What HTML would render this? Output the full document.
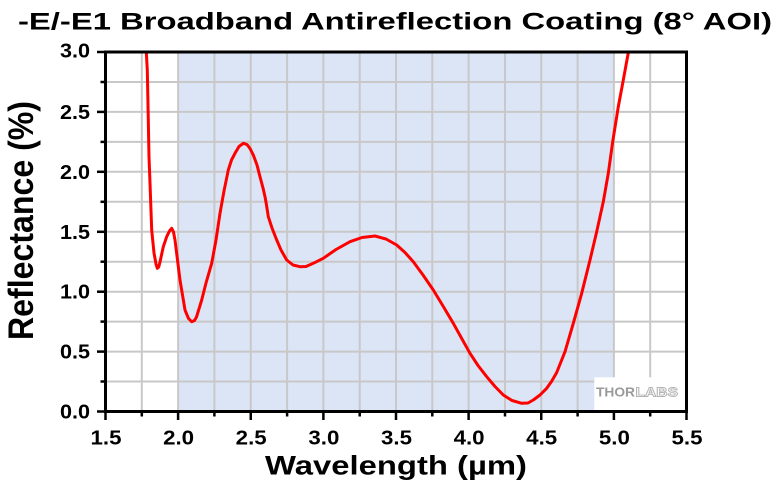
<!DOCTYPE html>
<html>
<head>
<meta charset="utf-8">
<style>
html,body{margin:0;padding:0;background:#fff;}
svg{display:block;}
text{font-family:"Liberation Sans",Arial,sans-serif;font-weight:bold;fill:#000;}
</style>
</head>
<body>
<svg width="780" height="487" viewBox="0 0 780 487" xmlns="http://www.w3.org/2000/svg">
<defs>
<clipPath id="plot"><rect x="105.5" y="52" width="581" height="359.5"/></clipPath>
</defs>
<rect width="780" height="487" fill="#fff"/>
<!-- shaded band -->
<rect x="178.1" y="52" width="435.8" height="359.5" fill="#dce5f5"/>
<!-- grid -->
<g stroke="#c8c8c8" stroke-width="2">
<line x1="141.8" y1="52" x2="141.8" y2="411.5"/>
<line x1="178.1" y1="52" x2="178.1" y2="411.5"/>
<line x1="214.4" y1="52" x2="214.4" y2="411.5"/>
<line x1="250.75" y1="52" x2="250.75" y2="411.5"/>
<line x1="287.1" y1="52" x2="287.1" y2="411.5"/>
<line x1="323.4" y1="52" x2="323.4" y2="411.5"/>
<line x1="359.7" y1="52" x2="359.7" y2="411.5"/>
<line x1="396" y1="52" x2="396" y2="411.5"/>
<line x1="432.3" y1="52" x2="432.3" y2="411.5"/>
<line x1="468.6" y1="52" x2="468.6" y2="411.5"/>
<line x1="505" y1="52" x2="505" y2="411.5"/>
<line x1="541.25" y1="52" x2="541.25" y2="411.5"/>
<line x1="577.6" y1="52" x2="577.6" y2="411.5"/>
<line x1="613.9" y1="52" x2="613.9" y2="411.5"/>
<line x1="650.2" y1="52" x2="650.2" y2="411.5"/>
<line x1="105.5" y1="381.5" x2="686.5" y2="381.5"/>
<line x1="105.5" y1="351.6" x2="686.5" y2="351.6"/>
<line x1="105.5" y1="321.6" x2="686.5" y2="321.6"/>
<line x1="105.5" y1="291.7" x2="686.5" y2="291.7"/>
<line x1="105.5" y1="261.7" x2="686.5" y2="261.7"/>
<line x1="105.5" y1="231.8" x2="686.5" y2="231.8"/>
<line x1="105.5" y1="201.8" x2="686.5" y2="201.8"/>
<line x1="105.5" y1="171.8" x2="686.5" y2="171.8"/>
<line x1="105.5" y1="141.9" x2="686.5" y2="141.9"/>
<line x1="105.5" y1="111.9" x2="686.5" y2="111.9"/>
<line x1="105.5" y1="82" x2="686.5" y2="82"/>
</g>
<!-- logo -->
<rect x="594.3" y="377.3" width="92" height="34" fill="#fff"/>
<text x="596" y="396.7" font-size="13" textLength="39" lengthAdjust="spacingAndGlyphs" style="fill:#9a9a9a">THOR</text>
<text x="635.5" y="396.7" font-size="13" textLength="42.5" lengthAdjust="spacingAndGlyphs" style="fill:#fff;stroke:#b4b4b4;stroke-width:0.9">LABS</text>
<!-- curve -->
<polyline clip-path="url(#plot)" fill="none" stroke="#ff0000" stroke-width="3" stroke-linejoin="round" stroke-linecap="round"
points="146,48 146.3,52 147.3,70 148.3,120 149,157 150,183 151.7,230 154,253 156,264 157.3,268.3 158.7,267 160,262 163.3,246.7 166.7,236.7 169.5,231 171.7,228.3 173.5,232 175,240 177.5,260 180,280 185,310 188.5,318.5 191.7,321.7 194.5,320.5 196.5,317 201.7,300 206,283 211.7,263.3 216,240 220,213.3 224,191 228.3,170 231.5,160 235,153.3 239,146.5 243.3,143.3 247,144.5 250,148.5 253.3,155 257,165 260,176.7 263,188 265,196.7 266.5,205 268.3,216.7 272,228 276.7,240 281,250 286.7,260 293,265 300,266.7 306,266.5 313.3,263.3 323.3,258.3 336,249.5 350,241.7 362,237.5 375,236 386,239 396.7,245 405,252.5 413.3,261.7 423,275 433.3,290 443,306 453.3,323.3 462,339 470,353.3 478,365.5 486.7,376.7 495,386.5 503.3,395 512,400.5 521.7,403.3 528,403 533.3,400 540,395 546.7,388.3 551.5,381.5 556.7,372.5 565,351.7 573.3,323.3 581.7,293.3 590,260 596.7,231.7 603.3,201.7 608.3,173.3 612.7,141.7 618.3,106.7 623.3,80 628.3,52.7 629,48"/>
<!-- frame -->
<rect x="105.5" y="52" width="581" height="359.5" fill="none" stroke="#000" stroke-width="3"/>
<!-- ticks -->
<g stroke="#000" stroke-width="2.5">
<line x1="97" y1="411.5" x2="105.5" y2="411.5"/>
<line x1="97" y1="351.6" x2="105.5" y2="351.6"/>
<line x1="97" y1="291.7" x2="105.5" y2="291.7"/>
<line x1="97" y1="231.8" x2="105.5" y2="231.8"/>
<line x1="97" y1="171.8" x2="105.5" y2="171.8"/>
<line x1="97" y1="111.9" x2="105.5" y2="111.9"/>
<line x1="97" y1="52" x2="105.5" y2="52"/>
<line x1="100.5" y1="381.5" x2="105.5" y2="381.5"/>
<line x1="100.5" y1="321.6" x2="105.5" y2="321.6"/>
<line x1="100.5" y1="261.7" x2="105.5" y2="261.7"/>
<line x1="100.5" y1="201.8" x2="105.5" y2="201.8"/>
<line x1="100.5" y1="141.9" x2="105.5" y2="141.9"/>
<line x1="100.5" y1="82" x2="105.5" y2="82"/>
<line x1="105.5" y1="411.5" x2="105.5" y2="420"/>
<line x1="178.1" y1="411.5" x2="178.1" y2="420"/>
<line x1="250.75" y1="411.5" x2="250.75" y2="420"/>
<line x1="323.4" y1="411.5" x2="323.4" y2="420"/>
<line x1="396" y1="411.5" x2="396" y2="420"/>
<line x1="468.6" y1="411.5" x2="468.6" y2="420"/>
<line x1="541.25" y1="411.5" x2="541.25" y2="420"/>
<line x1="613.9" y1="411.5" x2="613.9" y2="420"/>
<line x1="686.5" y1="411.5" x2="686.5" y2="420"/>
<line x1="141.8" y1="411.5" x2="141.8" y2="416.5"/>
<line x1="214.4" y1="411.5" x2="214.4" y2="416.5"/>
<line x1="287.1" y1="411.5" x2="287.1" y2="416.5"/>
<line x1="359.7" y1="411.5" x2="359.7" y2="416.5"/>
<line x1="432.3" y1="411.5" x2="432.3" y2="416.5"/>
<line x1="505" y1="411.5" x2="505" y2="416.5"/>
<line x1="577.6" y1="411.5" x2="577.6" y2="416.5"/>
<line x1="650.2" y1="411.5" x2="650.2" y2="416.5"/>
</g>
<!-- y tick labels -->
<g font-size="20" text-anchor="end">
<text x="90" y="418.5" textLength="30" lengthAdjust="spacingAndGlyphs">0.0</text>
<text x="90" y="358.6" textLength="30" lengthAdjust="spacingAndGlyphs">0.5</text>
<text x="90" y="298.7" textLength="30" lengthAdjust="spacingAndGlyphs">1.0</text>
<text x="90" y="238.8" textLength="30" lengthAdjust="spacingAndGlyphs">1.5</text>
<text x="90" y="178.8" textLength="30" lengthAdjust="spacingAndGlyphs">2.0</text>
<text x="90" y="118.9" textLength="30" lengthAdjust="spacingAndGlyphs">2.5</text>
<text x="90" y="57.5" textLength="30" lengthAdjust="spacingAndGlyphs">3.0</text>
</g>
<!-- x tick labels -->
<g font-size="20" text-anchor="middle">
<text x="106" y="444.3" textLength="31" lengthAdjust="spacingAndGlyphs">1.5</text>
<text x="178.6" y="444.3" textLength="31" lengthAdjust="spacingAndGlyphs">2.0</text>
<text x="251.2" y="444.3" textLength="31" lengthAdjust="spacingAndGlyphs">2.5</text>
<text x="323.9" y="444.3" textLength="31" lengthAdjust="spacingAndGlyphs">3.0</text>
<text x="396.5" y="444.3" textLength="31" lengthAdjust="spacingAndGlyphs">3.5</text>
<text x="469.1" y="444.3" textLength="31" lengthAdjust="spacingAndGlyphs">4.0</text>
<text x="541.7" y="444.3" textLength="31" lengthAdjust="spacingAndGlyphs">4.5</text>
<text x="614.4" y="444.3" textLength="31" lengthAdjust="spacingAndGlyphs">5.0</text>
<text x="687" y="444.3" textLength="31" lengthAdjust="spacingAndGlyphs">5.5</text>
</g>
<!-- title -->
<text x="18" y="29.3" font-size="24" textLength="754" lengthAdjust="spacingAndGlyphs">-E/-E1 Broadband Antireflection Coating (8° AOI)</text>
<!-- x label -->
<text x="265" y="474.3" font-size="27" textLength="262" lengthAdjust="spacingAndGlyphs">Wavelength (µm)</text>
<!-- y label -->
<text transform="translate(33,220.5) rotate(-90) scale(1,1.16)" x="0" y="0" font-size="30" text-anchor="middle" textLength="239" lengthAdjust="spacingAndGlyphs">Reflectance (%)</text>
</svg>
</body>
</html>
